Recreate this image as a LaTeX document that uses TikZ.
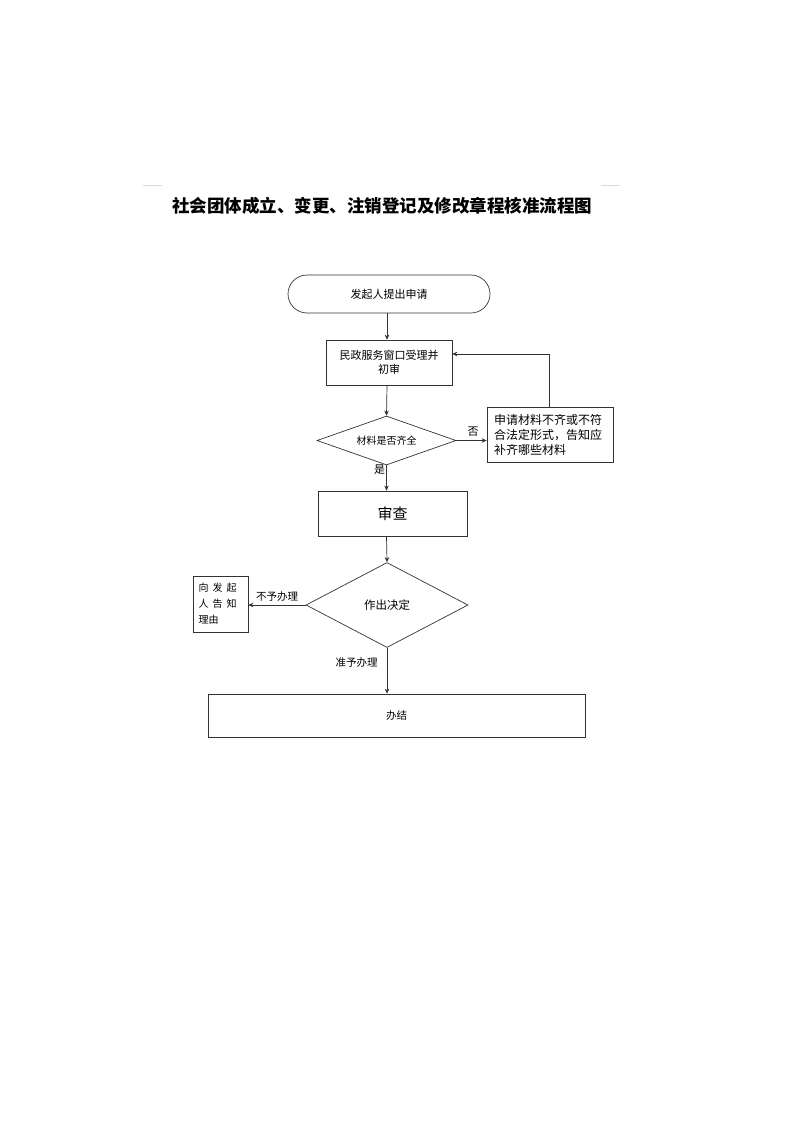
\documentclass[tikz,border=0pt]{standalone}
\usepackage{fontspec}
\newfontfamily\cjk{Noto Sans CJK SC}
\usetikzlibrary{shapes.geometric,arrows.meta}
\begin{document}
\begin{tikzpicture}[x=1pt,y=-1pt,
  every node/.style={font=\cjk},
  line/.style={draw=black!80,line width=0.7pt},
  arr/.style={line,-{Stealth[length=5pt,width=4.5pt]}},
  box/.style={line,rectangle,inner sep=0pt,align=center},
  dia/.style={line,diamond,inner sep=0pt},
  lbl/.style={inner sep=0pt}
]
\useasboundingbox (0,0) rectangle (793,1122);
% title and decorative rules
\node[lbl,font=\cjk\bfseries\fontsize{17.5}{20}\selectfont] (title) at (382,206) {社会团体成立、变更、注销登记及修改章程核准流程图};
\draw[black!15,line width=0.8pt] (143,185) -- (162,185);
\draw[black!15,line width=0.8pt] (601,185) -- (620,185);
% nodes
\node[line,rectangle,rounded corners=19pt,minimum width=202pt,minimum height=38pt,font=\cjk\fontsize{11}{13}\selectfont] (start) at (389,294) {发起人提出申请};
\node[box,minimum width=126pt,minimum height=45pt,font=\cjk\fontsize{11}{14}\selectfont] (b1) at (389,362.5) {民政服务窗口受理并\\初审};
\node[dia,minimum width=139pt,minimum height=49pt,aspect=3,font=\cjk\fontsize{10}{12}\selectfont] (d1) at (386.5,440.5) {材料是否齐全};
\node[box,align=left,text width=112pt,minimum width=126pt,minimum height=55pt,font=\cjk\fontsize{12}{15}\selectfont] (b2) at (550,434.5) {申请材料不齐或不符\\合法定形式，告知应\\补齐哪些材料};
\node[box,minimum width=149pt,minimum height=45pt,font=\cjk\fontsize{15}{18}\selectfont] (b3) at (392.5,513.5) {审查};
\node[dia,minimum width=162pt,minimum height=85pt,aspect=2,font=\cjk\fontsize{11.5}{14}\selectfont] (d2) at (387,605) {作出决定};
\node[box,align=left,text width=44pt,minimum width=55pt,minimum height=56pt,font=\cjk\fontsize{10}{16}\selectfont] (b4) at (220.5,604) {向\hspace{4pt}发\hspace{4pt}起\\人\hspace{4pt}告\hspace{4pt}知\\理由};
\node[box,minimum width=377pt,minimum height=43pt,font=\cjk\fontsize{10.5}{13}\selectfont] (b5) at (396.5,715.5) {办结};
\coordinate (fb) at (549,354);
% connectors
\draw[arr] (start.south -| 387,0) -- (387,0 |- b1.north);
\draw[arr] (387,0 |- b1.south) -- (d1.north);
\draw[arr] (d1.east) -- (b2.west |- d1.east) node[lbl,pos=0.55,above=4pt,font=\cjk\fontsize{11}{13}\selectfont] (no) {否};
\draw[arr] (b2.north -| fb) -- (fb) -- (b1.east |- fb);
\draw[arr] (d1.south) -- (d1.south |- b3.north) node[lbl,pos=0.15,left=1pt,font=\cjk\fontsize{11}{13}\selectfont] (yes) {是};
\draw[arr] (d1.south |- b3.south) -- (d2.north);
\draw[arr] (d2.west) -- (b4.east |- d2.west) node[lbl,midway,above=3pt,font=\cjk\fontsize{10.5}{13}\selectfont] (refuse) {不予办理};
\draw[arr] (d2.south) -- (d2.south |- b5.north) node[lbl,pos=0.33,left=9pt,font=\cjk\fontsize{10.5}{13}\selectfont] (grant) {准予办理};
\end{tikzpicture}
\end{document}
